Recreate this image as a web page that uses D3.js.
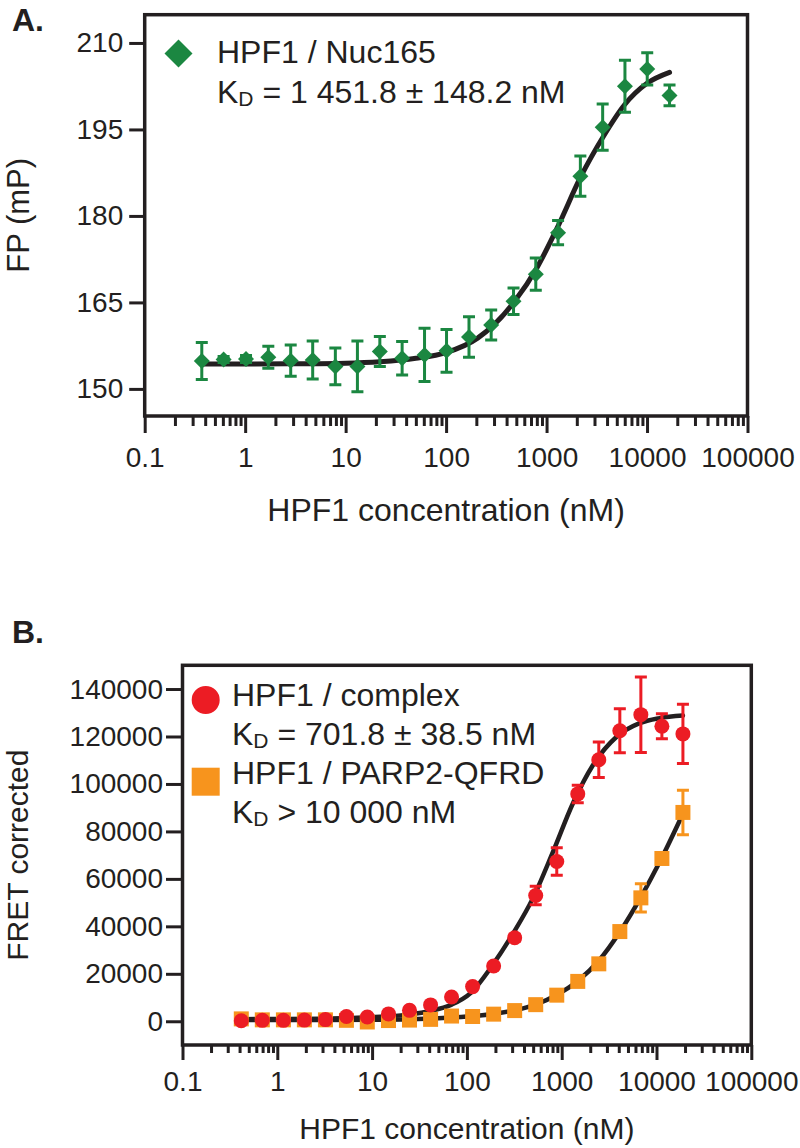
<!DOCTYPE html>
<html><head><meta charset="utf-8">
<script src="https://cdn.jsdelivr.net/npm/d3@7"></script>
<style>
body{margin:0;background:#fff;}
svg text{font-family:"Liberation Sans",Arial,Helvetica,sans-serif;fill:#231f20;white-space:pre;}
</style></head><body>
<svg id="chart" width="800" height="1148"></svg>
<script>
// ---------- Panel A data ----------
const concA = [0.37,0.61,1.02,1.70,2.84,4.7,7.9,13.1,21.9,36.5,61,101,169,281,469,781,1302,2170,3617,6028,10046,16744];
const fpMean = [154.85,155.1,155.2,155.5,154.9,155.0,153.9,153.9,156.5,155.3,155.9,156.6,159.0,161.1,165.2,169.9,177.1,186.9,195.4,202.5,205.5,200.9];
const fpErr  = [3.2,0.5,0.6,1.9,2.7,3.3,3.2,4.4,2.6,2.9,4.6,3.7,3.5,2.6,2.3,2.8,2.1,3.5,4.0,4.5,2.8,1.8];
const fitAConc = [0.37,1,3,10,22,50,100,206,477,813,1290,2190,3740,5920,10000,16744];
const fitAVal  = [154.3,154.3,154.35,154.45,154.7,155.3,156.3,158.8,165.1,171.2,178.1,186.8,194.0,199.2,203.0,204.9];
const yTicksA = [150,165,180,195,210];
const xTicks = [0.1,1,10,100,1000,10000,100000];
const xTickLabels = ["0.1","1","10","100","1000","10000","100000"];
const legendA = ["HPF1 / Nuc165"," = 1 451.8 ± 148.2 nM"];

// ---------- Panel B data ----------
const concB = [0.417,0.695,1.16,1.93,3.22,5.36,8.9,14.9,24.8,41.4,68.9,114.9,191.5,319,532,887,1477,2462,4104,6840,11400,19000];
const complexMean = [200,400,400,500,700,2000,1800,3100,4600,6900,10200,14600,23300,35200,53000,67300,95800,110200,122400,129200,124300,121100];
const complexErr  = [800,800,800,800,800,800,800,800,800,800,800,1000,1200,1500,3900,5800,3700,7500,9300,15900,5300,12500];
const qfrdMean = [1000,600,600,600,600,400,-300,300,500,800,2200,2000,3000,4500,7000,11000,16800,24200,37800,52000,68600,88000];
const qfrdErr  = [500,500,500,500,500,500,500,500,500,500,500,500,500,500,600,800,1000,1200,1500,6000,1200,9400];
const fitComplexConc = [0.417,1,3,8,15,25,41,69,110,189,307,499,811,1318,2140,3770,6650,10700,19000];
const fitComplexVal  = [900,950,1100,1600,2100,2900,4300,7000,12000,24000,37000,52000,71500,92000,108000,119800,125600,127700,128800];
const fitQfrdConc = [0.417,3,10,25,50,100,190,320,530,890,1480,2460,4100,6840,11400,19000];
const fitQfrdVal  = [500,550,650,900,1300,2000,3100,4600,7000,11200,17000,25500,37600,52300,69000,87500];
const yTicksB = [0,20000,40000,60000,80000,100000,120000,140000];
const legendB = ["HPF1 / complex"," = 701.8 ± 38.5 nM","HPF1 / PARP2-QFRD"," > 10 000 nM"];

const INK = "#231f20", GREEN = "#1b8741", RED = "#ec1c24", ORANGE = "#f7941d";
const svg = d3.select("#chart");

const diamond = {draw(ctx, size){const r=Math.sqrt(size/2);ctx.moveTo(0,-r);ctx.lineTo(r,0);ctx.lineTo(0,r);ctx.lineTo(-r,0);ctx.closePath();}};

function minorTicks(){
  const out=[];
  for(let i=0;i<xTicks.length-1;i++) for(let k=2;k<=9;k++) out.push(xTicks[i]*k);
  return out;
}

function styleAxis(g, fs){
  g.select(".domain").remove();
  g.selectAll(".tick line").attr("stroke",INK).attr("stroke-width",3);
  g.selectAll(".tick text").attr("fill",INK).attr("font-size",fs).attr("font-family","Liberation Sans, Arial, sans-serif");
}

function panel(o){
  const g = svg.append("g");
  const x = d3.scaleLog().domain([0.1,100000]).range(o.xr);
  const y = d3.scaleLinear().domain(o.yd).range(o.yr);
  const bottom = o.yr[0], top = o.yr[1];

  const gx = g.append("g").attr("transform",`translate(0,${bottom})`)
    .call(d3.axisBottom(x).tickValues(xTicks).tickFormat((d,i)=>xTickLabels[i]).tickSize(o.major).tickPadding(o.xpad));
  styleAxis(gx, 28);
  const gm = g.append("g").attr("transform",`translate(0,${bottom})`)
    .call(d3.axisBottom(x).tickValues(minorTicks()).tickFormat("").tickSize(o.minor));
  styleAxis(gm, 28);
  const gy = g.append("g").attr("transform",`translate(${o.xr[0]},0)`)
    .call(d3.axisLeft(y).tickValues(o.yTicks).tickFormat(d3.format("d")).tickSize(o.ytick).tickPadding(o.ypad));
  styleAxis(gy, 28);

  g.append("rect").attr("x",o.xr[0]).attr("y",top).attr("width",o.xr[1]-o.xr[0]).attr("height",bottom-top)
    .attr("fill","none").attr("stroke",INK).attr("stroke-width",3.5);

  g.append("text").attr("x",(o.xr[0]+o.xr[1])/2).attr("y",o.xtitleY).attr("text-anchor","middle")
    .attr("font-size",o.titleFs).text("HPF1 concentration (nM)");
  g.append("text").attr("transform",`translate(${o.ytitleX},${(top+bottom)/2}) rotate(-90)`).attr("text-anchor","middle")
    .attr("font-size",o.ytitleFs).text(o.ytitle);
  g.append("text").attr("x",12).attr("y",o.labelY).attr("font-size",32).attr("font-weight","bold").text(o.label);
  return {g,x,y};
}

function curve(g,x,y,cs,vs,w){
  g.append("path").datum(d3.zip(cs,vs))
    .attr("d",d3.line().x(d=>x(d[0])).y(d=>y(d[1])).curve(d3.curveMonotoneX))
    .attr("fill","none").attr("stroke",INK).attr("stroke-width",w).attr("stroke-linecap","round");
}
function errbars(g,x,y,cs,ms,es,color){
  const data=d3.zip(cs,ms,es);
  const eg=g.append("g").attr("stroke",color).attr("stroke-width",3).attr("fill","none");
  eg.selectAll("path").data(data).join("path")
    .attr("d",d=>{const cx=x(d[0]),y1=y(d[1]+d[2]),y2=y(d[1]-d[2]);
      return `M${cx},${y1}V${y2}M${cx-6},${y1}H${cx+6}M${cx-6},${y2}H${cx+6}`;});
}
function markers(g,x,y,cs,ms,type,size,color){
  g.append("g").selectAll("path").data(d3.zip(cs,ms)).join("path")
    .attr("transform",d=>`translate(${x(d[0])},${y(d[1])})`)
    .attr("d",d3.symbol(type,size)).attr("fill",color);
}
function kdLine(g,xp,yp,rest){
  const t=g.append("text").attr("x",xp).attr("y",yp).attr("font-size",32);
  t.append("tspan").text("K");
  t.append("tspan").attr("font-size",21).attr("dy",3).text("D");
  t.append("tspan").attr("dy",-3).text(rest);
}

// ---------- Panel A ----------
const A = panel({xr:[144.7,747.5], yd:[145.3,214.9], yr:[416,14.7], yTicks:yTicksA,
  major:17, minor:10, xpad:14, ytick:15.5, ypad:6, xtitleY:521, titleFs:32, ytitleFs:31, ytitleX:29,
  ytitle:"FP (mP)", label:"A.", labelY:31});
curve(A.g,A.x,A.y,fitAConc,fitAVal,5);
errbars(A.g,A.x,A.y,concA,fpMean,fpErr,GREEN);
markers(A.g,A.x,A.y,concA,fpMean,diamond,128,GREEN);
A.g.append("path").attr("transform","translate(178.5,53.5)").attr("d",d3.symbol(diamond,392)).attr("fill",GREEN);
A.g.append("text").attr("x",217).attr("y",63).attr("font-size",32).text(legendA[0]);
kdLine(A.g,217,103,legendA[1]);

// ---------- Panel B ----------
const B = panel({xr:[182.5,751.3], yd:[-10000,150000], yr:[1045,665.3], yTicks:yTicksB,
  major:15, minor:8, xpad:11, ytick:16.5, ypad:3, xtitleY:1139, titleFs:30, ytitleFs:30, ytitleX:28,
  ytitle:"FRET corrected", label:"B.", labelY:643});
curve(B.g,B.x,B.y,fitQfrdConc,fitQfrdVal,4.5);
curve(B.g,B.x,B.y,fitComplexConc,fitComplexVal,4.5);
errbars(B.g,B.x,B.y,concB,qfrdMean,qfrdErr,ORANGE);
markers(B.g,B.x,B.y,concB,qfrdMean,d3.symbolSquare,225,ORANGE);
errbars(B.g,B.x,B.y,concB,complexMean,complexErr,RED);
markers(B.g,B.x,B.y,concB,complexMean,d3.symbolCircle,177,RED);
B.g.append("path").attr("transform","translate(205.7,700)").attr("d",d3.symbol(d3.symbolCircle,616)).attr("fill",RED);
B.g.append("text").attr("x",232).attr("y",706).attr("font-size",32).text(legendB[0]);
kdLine(B.g,232,745,legendB[1]);
B.g.append("path").attr("transform","translate(205.7,781.7)").attr("d",d3.symbol(d3.symbolSquare,784)).attr("fill",ORANGE);
B.g.append("text").attr("x",232).attr("y",784).attr("font-size",32).text(legendB[2]);
kdLine(B.g,232,823,legendB[3]);
</script>
</body></html>
